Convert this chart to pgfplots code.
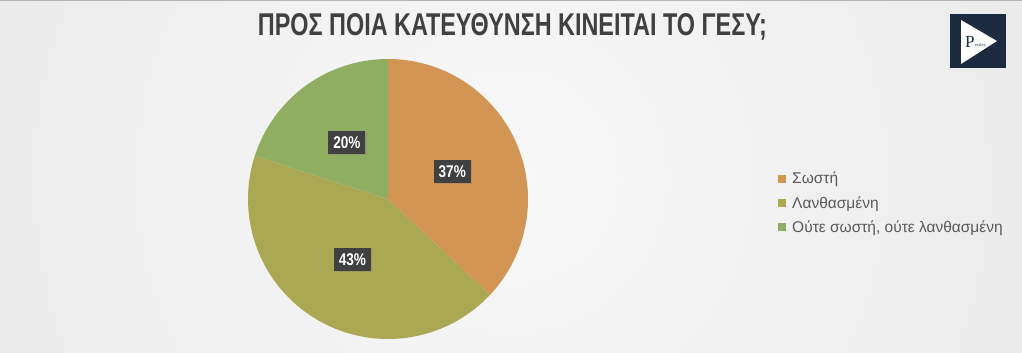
\documentclass[border=0pt]{standalone}
\usepackage{fontspec}
\setmainfont{Liberation Sans}
\usepackage{pgfplots}
\pgfplotsset{compat=1.18}
\usepackage{pgfplotstable}
\usetikzlibrary{shadows}
\definecolor{cA}{HTML}{D39553}
\definecolor{cB}{HTML}{ABA853}
\definecolor{cC}{HTML}{8FAE62}
\definecolor{bg0}{HTML}{F8F8F8}
\definecolor{bg1}{HTML}{EFEFEF}
\definecolor{bg2}{HTML}{E5E5E5}
\definecolor{bg3}{HTML}{D7D7D7}
\definecolor{bg4}{HTML}{C8C8C8}
\definecolor{titlegray}{HTML}{404040}
\definecolor{txtgray}{HTML}{595959}
\definecolor{lblbox}{HTML}{404040}
\definecolor{logoblue}{HTML}{1C2B40}
\pgfdeclareradialshading{bgshade}{\pgfpoint{0bp}{0bp}}{color(0bp)=(bg0); color(18.5bp)=(bg1); color(33.3bp)=(bg2); color(47bp)=(bg3); color(50bp)=(bg4)}

\pgfplotstableread{
value
37
43
20
}\piedata

\pgfplotstablegetelem{0}{value}\of\piedata \pgfmathtruncatemacro\va{\pgfplotsretval}
\pgfplotstablegetelem{1}{value}\of\piedata \pgfmathtruncatemacro\vb{\pgfplotsretval}
\pgfplotstablegetelem{2}{value}\of\piedata \pgfmathtruncatemacro\vc{\pgfplotsretval}
\pgfmathsetmacro\tot{\va+\vb+\vc}
\pgfmathsetmacro\azero{90}
\pgfmathsetmacro\aone{\azero-360*\va/\tot}
\pgfmathsetmacro\atwo{\aone-360*\vb/\tot}
\pgfmathsetmacro\athree{\atwo-360*\vc/\tot}
\def\cx{388}\def\cy{154}\def\R{140}
\pgfmathsetmacro\mA{(\azero+\aone)/2}
\pgfmathsetmacro\mB{(\aone+\atwo)/2}
\pgfmathsetmacro\mC{(\atwo+\athree)/2}
\pgfmathsetmacro\lAx{\cx+0.5*\R*cos(\mA)}\pgfmathsetmacro\lAy{\cy+0.5*\R*sin(\mA)}
\pgfmathsetmacro\lBx{\cx+0.5*\R*cos(\mB)}\pgfmathsetmacro\lBy{\cy+0.5*\R*sin(\mB)}
\pgfmathsetmacro\lCx{\cx+0.5*\R*cos(\mC)}\pgfmathsetmacro\lCy{\cy+0.5*\R*sin(\mC)}

\begin{document}
\begin{tikzpicture}
\useasboundingbox (0,0) rectangle (1022pt,353pt);
\begin{scope}
\clip (0,0) rectangle (1022pt,353pt);
\shade[shading=bgshade] (511pt-541pt,176.5pt-541pt) rectangle (511pt+541pt,176.5pt+541pt);
\end{scope}
\draw[gray!60, line width=0.6pt] (0,352.7pt) -- (1022pt,352.7pt);
% title
\node[anchor=base, inner sep=0pt, text=titlegray] at (512.5pt,317pt)
  {\resizebox{509pt}{22pt}{\bfseries ΠΡΟΣ ΠΟΙΑ ΚΑΤΕΥΘΥΝΣΗ ΚΙΝΕΙΤΑΙ ΤΟ ΓΕΣΥ;}};
% logo
\fill[logoblue] (950pt,285pt) rectangle (1006pt,339pt);
\fill[white] (961pt,333pt) -- (997pt,312pt) -- (961pt,289pt) -- cycle;
\node[anchor=base west, inner sep=0pt, text=logoblue, font=\fontspec{Liberation Serif}\fontsize{17}{17}\selectfont] at (965pt,305pt) {P};
\node[anchor=base west, inner sep=0pt, text=logoblue, font=\fontspec{Liberation Serif}\fontsize{4.5}{5}\selectfont] at (975pt,306pt) {ersley};
\begin{axis}[
  at={(0,0)}, anchor=south west,
  scale only axis, width=1022pt, height=353pt,
  xmin=0, xmax=1022, ymin=0, ymax=353,
  hide axis, clip=false,
  legend style={draw=none, fill=none, at={(axis cs:778,183)}, anchor=north west,
    font=\fontsize{15.5}{17}\selectfont, text=txtgray, row sep=7pt, inner sep=0pt,
    /tikz/every odd column/.append style={column sep=4pt}},
  legend cell align=left,
  legend image code/.code={\fill[#1] (0pt,-4pt) rectangle (8pt,4pt);},
]
\addplot[fill=cA, draw=none, domain=\aone:\azero, samples=120] ({\cx+\R*cos(x)},{\cy+\R*sin(x)}) -- (axis cs:\cx,\cy) -- cycle;
\addlegendentry{Σωστή}
\addplot[fill=cB, draw=none, domain=\atwo:\aone, samples=120] ({\cx+\R*cos(x)},{\cy+\R*sin(x)}) -- (axis cs:\cx,\cy) -- cycle;
\addlegendentry{Λανθασμένη}
\addplot[fill=cC, draw=none, domain=\athree:\atwo, samples=120] ({\cx+\R*cos(x)},{\cy+\R*sin(x)}) -- (axis cs:\cx,\cy) -- cycle;
\addlegendentry{Ούτε σωστή, ούτε λανθασμένη}
\tikzset{lbl/.style={fill=lblbox, text=white, minimum width=37pt, minimum height=23pt, inner sep=0pt,
  font=\bfseries\fontsize{17}{17}\selectfont, drop shadow={shadow xshift=1.5pt, shadow yshift=-1.5pt, opacity=0.35}}}
\node[lbl] at (axis cs:\lAx,\lAy) {\scalebox{0.8}[1]{\va\%}};
\node[lbl] at (axis cs:\lBx,\lBy) {\scalebox{0.8}[1]{\vb\%}};
\node[lbl] at (axis cs:\lCx,\lCy) {\scalebox{0.8}[1]{\vc\%}};
\end{axis}
\end{tikzpicture}
\end{document}
